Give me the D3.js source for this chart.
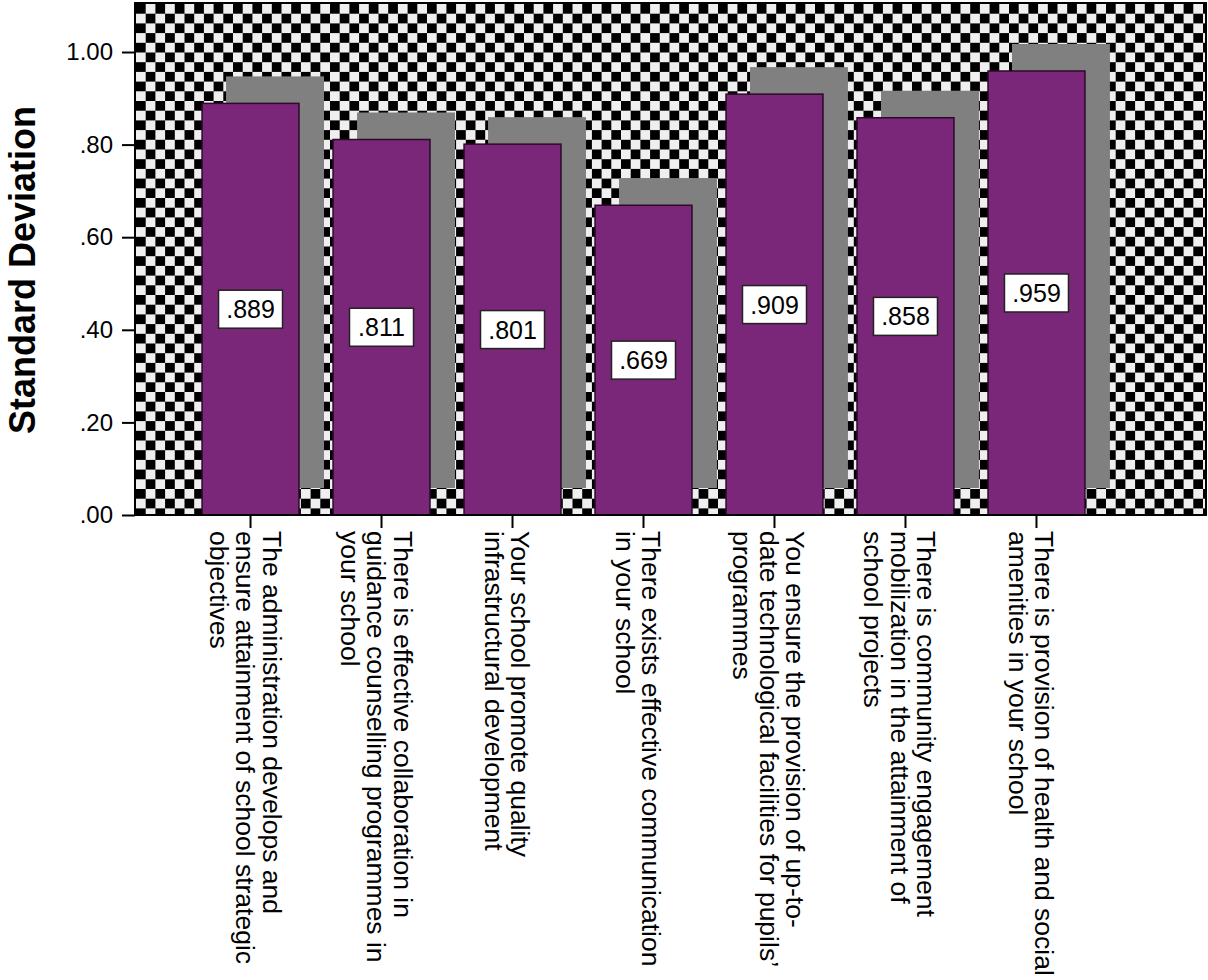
<!DOCTYPE html>
<html>
<head>
<meta charset="utf-8">
<script src="https://cdn.jsdelivr.net/npm/d3@7"></script>
<style>
  html, body { margin: 0; padding: 0; background: #ffffff; }
  svg { display: block; }
  text { font-family: "Liberation Sans", Arial, sans-serif; fill: #000; }
</style>
</head>
<body>
<svg id="chart" width="1208" height="980"></svg>
<script>
// ---------- data ----------
const categories = [
  "The administration develops and ensure attainment of school strategic objectives",
  "There is effective collaboration in guidance counselling programmes in your school",
  "Your school promote quality infrastructural development",
  "There exists effective communication in your school",
  "You ensure the provision of up-to-date technological facilities for pupils’ programmes",
  "There is community engagement mobilization in the attainment of school projects",
  "There is provision of health and social amenities in your school"
];
const categoryLines = [
  ["The administration develops and", "ensure attainment of school strategic", "objectives"],
  ["There is effective collaboration in", "guidance counselling programmes in", "your school"],
  ["Your school promote quality", "infrastructural development"],
  ["There exists effective communication", "in your school"],
  ["You ensure the provision of up-to-", "date technological facilities for pupils’", "programmes"],
  ["There is community engagement", "mobilization in the attainment of", "school projects"],
  ["There is provision of health and social", "amenities in your school"]
];
const values = [0.889, 0.811, 0.801, 0.669, 0.909, 0.858, 0.959];
const valueLabels = [".889", ".811", ".801", ".669", ".909", ".858", ".959"];
const yTicks = [0, 0.2, 0.4, 0.6, 0.8, 1.0];
const yTickLabels = [".00", ".20", ".40", ".60", ".80", "1.00"];
const yTitle = "Standard Deviation";

// ---------- layout ----------
const plot = { left: 135, top: 3, right: 1206, bottom: 515 };
const shadowDx = 25, shadowDy = 27;
const purple = "#7b2779", shadow = "#808080";

const svg = d3.select("#chart");
svg.append("rect").attr("width", 1208).attr("height", 980).attr("fill", "#fff");

const y = d3.scaleLinear().domain([0, 1]).range([plot.bottom, 52]);
const x = d3.scaleBand().domain(categories).range([168, 1119]).paddingInner(0.26).paddingOuter(0.26);

// checker pattern
const cell = 9.7;
const defs = svg.append("defs");
const pat = defs.append("pattern").attr("id", "checker")
  .attr("patternUnits", "userSpaceOnUse")
  .attr("x", plot.left + 1).attr("y", plot.top + 1)
  .attr("width", cell * 2).attr("height", cell * 2);
pat.append("rect").attr("width", cell * 2).attr("height", cell * 2).attr("fill", "#efefef");
pat.append("rect").attr("x", 0).attr("y", 0).attr("width", cell).attr("height", cell).attr("fill", "#000");
pat.append("rect").attr("x", cell).attr("y", cell).attr("width", cell).attr("height", cell).attr("fill", "#000");

svg.append("rect")
  .attr("x", plot.left).attr("y", plot.top)
  .attr("width", plot.right - plot.left).attr("height", plot.bottom - plot.top)
  .attr("fill", "url(#checker)");

// shadows
svg.append("g").selectAll("rect").data(values).join("rect")
  .attr("x", (d, i) => x(categories[i]) + shadowDx - 1)
  .attr("y", d => y(d) - shadowDy)
  .attr("width", x.bandwidth() + 1)
  .attr("height", d => (plot.bottom - shadowDy) - (y(d) - shadowDy))
  .attr("fill", shadow);

// bars
svg.append("g").selectAll("rect").data(values).join("rect")
  .attr("x", (d, i) => x(categories[i]))
  .attr("y", d => y(d))
  .attr("width", x.bandwidth())
  .attr("height", d => plot.bottom - y(d))
  .attr("fill", purple)
  .attr("stroke", "#2b0a2a")
  .attr("stroke-width", 1.5);

// value labels
const lab = svg.append("g").selectAll("g").data(values).join("g")
  .attr("transform", (d, i) => `translate(${x(categories[i]) + x.bandwidth() / 2},${(y(d) + plot.bottom) / 2})`);
lab.append("rect").attr("x", -32).attr("y", -19).attr("width", 64).attr("height", 38)
  .attr("fill", "#fff").attr("stroke", "#222").attr("stroke-width", 1.5);
lab.append("text").attr("text-anchor", "middle").attr("dy", "0.36em")
  .attr("font-size", 25).text((d, i) => valueLabels[i]);

// frame
svg.append("rect")
  .attr("x", plot.left).attr("y", plot.top)
  .attr("width", plot.right - plot.left).attr("height", plot.bottom - plot.top)
  .attr("fill", "none").attr("stroke", "#000").attr("stroke-width", 2);

// y axis
const yAxis = d3.axisLeft(y).tickValues(yTicks).tickSize(13).tickPadding(9)
  .tickFormat((d, i) => yTickLabels[i]);
const gy = svg.append("g").attr("transform", `translate(${plot.left},0)`).call(yAxis);
gy.select(".domain").remove();
gy.selectAll(".tick line").attr("stroke", "#000").attr("stroke-width", 2);
gy.selectAll(".tick text").attr("font-size", 24).attr("font-family", "Liberation Sans, Arial, sans-serif").attr("fill", "#000");

// x axis ticks
const xAxis = d3.axisBottom(x).tickSize(13).tickFormat("");
const gx = svg.append("g").attr("transform", `translate(0,${plot.bottom})`).call(xAxis);
gx.select(".domain").remove();
gx.selectAll(".tick line").attr("stroke", "#000").attr("stroke-width", 2);

// category labels (rotated 90)
const lineGap = 26.5;
categories.forEach((c, i) => {
  const cx = x(c) + x.bandwidth() / 2;
  const lines = categoryLines[i];
  const n = lines.length;
  lines.forEach((ln, j) => {
    const bx = cx - 14.5 + ((n - 1) / 2 - j) * lineGap;
    svg.append("text")
      .attr("transform", `translate(${bx},531) rotate(90)`)
      .attr("font-size", 26.5)
      .attr("text-anchor", "start")
      .text(ln);
  });
});

// y title
svg.append("text")
  .attr("transform", "translate(35,270) rotate(-90)")
  .attr("text-anchor", "middle")
  .attr("font-size", 36)
  .attr("font-weight", "bold")
  .text(yTitle);
</script>
</body>
</html>
